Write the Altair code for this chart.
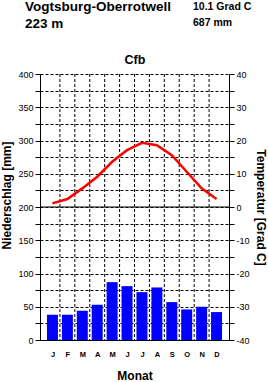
import json
import altair as alt
import pandas as pd

# ---- data ----
months = ["J", "F", "M", "A", "M", "J", "J", "A", "S", "O", "N", "D"]
precip_mm = [38, 38, 44, 53, 87, 81, 72, 79, 57, 46, 50, 42]
temp_c = [1.1, 2.4, 5.6, 9.1, 13.6, 17.1, 19.3, 18.6, 15.6, 10.6, 5.6, 2.4]

station = "Vogtsburg-Oberrotwell"
elevation = "223 m"
mean_temp = "10.1 Grad C"
annual_precip = "687 mm"
climate_class = "Cfb"

FONT = "Liberation Sans"

df = pd.DataFrame({
    "idx": list(range(12)),
    "month": months,
    "precip": precip_mm,
    "temp": temp_c,
})
df["mid"] = df["idx"] + 0.5
bounds = pd.DataFrame({"mid": [float(i) for i in range(1, 12)]})

xscale = alt.Scale(domain=[0, 12], nice=False, zero=False)
pscale = alt.Scale(domain=[0, 400], nice=False)
tscale = alt.Scale(domain=[-40, 40], nice=False)

label_expr = json.dumps(months) + "[floor(datum.value)]"

xaxis = alt.Axis(
    values=[i + 0.5 for i in range(12)], labelExpr=label_expr,
    ticks=False, grid=False, domain=True, domainColor="black",
    labelFont=FONT, labelFontWeight="bold", labelFontSize=7.5,
    labelColor="black", labelPadding=10,
    title="Monat", titleFont=FONT, titleFontSize=12, titleFontWeight="bold",
    titleColor="black", titleBaseline="bottom", titleY=42)

bars = alt.Chart(df).mark_bar(size=11, color="#0000FF").encode(
    x=alt.X("mid:Q", scale=xscale, axis=xaxis),
    y=alt.Y("precip:Q", scale=pscale, axis=alt.Axis(
        orient="left", values=list(range(0, 401, 25)),
        labelExpr="datum.value % 50 == 0 ? datum.value : ''",
        grid=True, gridDash=[3, 2], gridColor="black", gridOpacity=1,
        tickColor="black", tickSize=5, domainColor="black",
        labelFont=FONT, labelFontSize=9, labelColor="black", labelPadding=2,
        title="Niederschlag [mm]", titleFont=FONT, titleFontSize=12,
        titleFontWeight="bold", titleColor="black", titleAngle=-90,
        titleBaseline="bottom", titleX=-27, titleY=121)),
)

vgrid = alt.Chart(bounds).mark_rule(color="black", strokeDash=[3, 2], strokeWidth=1).encode(
    x=alt.X("mid:Q", scale=xscale, axis=xaxis),
)

zero_line = alt.Chart(pd.DataFrame({"z": [200]})).mark_rule(color="black", strokeWidth=1).encode(
    y=alt.Y("z:Q", scale=pscale, axis=None),
)

line = alt.Chart(df).mark_line(color="#FF0000", strokeWidth=2.5).encode(
    x=alt.X("mid:Q", scale=xscale, axis=xaxis),
    y=alt.Y("temp:Q", scale=tscale, axis=alt.Axis(
        orient="right", values=list(range(-40, 41, 5)),
        labelExpr="datum.value % 10 == 0 ? datum.value : ''",
        grid=False, tickColor="black", tickSize=5, domainColor="black",
        labelFont=FONT, labelFontSize=9, labelColor="black", labelPadding=2,
        title="Temperatur [Grad C]", titleFont=FONT, titleFontSize=12,
        titleFontWeight="bold", titleColor="black", titleAngle=90,
        titleBaseline="bottom", titleX=24, titleY=133)),
)


def label(text, x, y, size, align="left"):
    return alt.Chart(pd.DataFrame({"t": [text]})).mark_text(
        font=FONT, fontWeight="bold", fontSize=size, align=align,
        baseline="alphabetic", color="black",
    ).encode(text="t:N", x=alt.value(x), y=alt.value(y))


texts = (
    label(station, -15, -63.5, 13.5)
    + label(elevation, -15, -46.5, 13.5)
    + label(mean_temp, 153, -64, 10.5)
    + label(annual_precip, 153, -48, 10.5)
    + label(climate_class, 95, -10, 12.5, align="center")
)

chart = alt.layer(bars, vgrid, zero_line, line, texts).resolve_scale(
    y="independent"
).properties(
    width=189, height=266,
    autosize=alt.AutoSizeParams(type="none"),
    padding={"left": 40, "top": 74, "right": 39, "bottom": 42},
    background="white",
).configure_view(stroke=None)

chart.save("out.html", embed_options={"renderer": "svg", "actions": False})
